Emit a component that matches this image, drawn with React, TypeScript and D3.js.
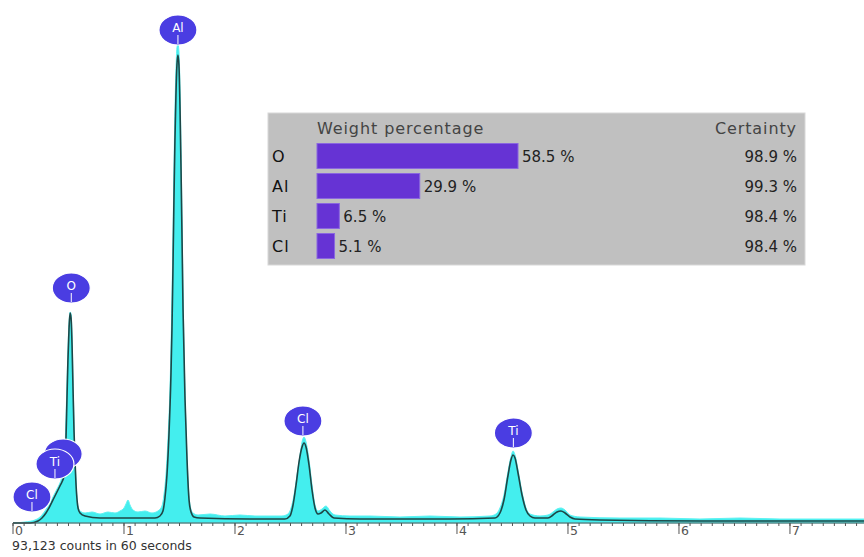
import React from "react";
import * as d3 from "d3";

const W = 864;
const H = 557;

// measured spectrum: [keV, counts]
const measuredKeV = [0.000,0.108,0.198,0.243,0.288,0.333,0.369,0.396,0.423,0.441,0.459,0.468,0.477,0.486,0.495,0.505,0.514,0.523,0.532,0.541,0.550,0.559,0.568,0.577,0.586,0.604,0.649,0.712,0.784,0.856,0.919,0.964,1.000,1.018,1.036,1.054,1.081,1.126,1.189,1.252,1.306,1.342,1.360,1.378,1.396,1.414,1.423,1.432,1.441,1.450,1.459,1.468,1.477,1.486,1.495,1.505,1.514,1.523,1.532,1.541,1.559,1.577,1.595,1.622,1.667,1.775,1.910,2.045,2.180,2.315,2.423,2.477,2.505,2.532,2.559,2.586,2.604,2.622,2.640,2.667,2.694,2.721,2.748,2.784,2.820,2.856,2.901,3.036,3.216,3.486,3.757,4.027,4.297,4.351,4.387,4.423,4.459,4.486,4.505,4.523,4.550,4.586,4.622,4.658,4.748,4.820,4.865,4.901,4.937,4.973,5.018,5.108,5.468,5.829,6.189,6.550,6.910,7.270,7.667];
const measuredCounts = [0,20,60,120,240,400,560,680,800,920,1100,1460,2060,2760,3460,4020,4220,4180,3760,2860,1960,1300,820,500,340,240,200,220,180,220,200,240,300,380,460,360,260,220,240,200,240,340,560,960,1660,2660,3460,4460,5660,7060,8260,9060,9500,9580,9420,8660,7460,6060,4660,3460,1860,860,360,200,160,180,140,160,140,140,140,180,300,560,960,1360,1620,1720,1620,1260,760,360,240,280,340,240,160,140,140,120,140,120,140,180,300,560,1020,1320,1440,1360,1060,620,300,180,140,160,220,280,300,260,160,120,100,100,80,100,80,80,80];

// fitted spectrum: [keV, counts]
const fitKeV = [0.000,0.153,0.225,0.261,0.297,0.333,0.369,0.396,0.423,0.441,0.459,0.468,0.477,0.486,0.495,0.505,0.514,0.523,0.532,0.541,0.550,0.559,0.568,0.577,0.586,0.604,0.649,0.784,1.054,1.279,1.324,1.351,1.369,1.387,1.405,1.423,1.432,1.441,1.450,1.459,1.468,1.477,1.486,1.495,1.505,1.514,1.523,1.532,1.550,1.568,1.586,1.604,1.631,1.685,2.135,2.450,2.495,2.523,2.550,2.577,2.604,2.622,2.640,2.667,2.694,2.721,2.748,2.775,2.811,2.847,2.892,3.126,3.937,4.342,4.387,4.423,4.459,4.486,4.505,4.523,4.550,4.586,4.622,4.658,4.703,4.820,4.865,4.901,4.937,4.973,5.018,5.063,5.288,6.189,7.667];
const fitCounts = [0,0,40,100,200,340,500,620,740,820,940,1160,1660,2460,3260,3900,4200,4100,3560,2660,1820,1220,760,460,300,200,140,100,100,100,140,240,500,960,1760,2960,3860,5060,6460,7660,8560,9160,9360,9160,8260,7060,5660,4260,2460,1260,460,220,120,100,80,80,140,360,760,1220,1520,1600,1520,1160,660,300,180,200,260,180,100,80,80,100,200,460,940,1260,1360,1300,1000,560,260,140,100,100,160,220,240,200,120,80,60,40,40];

// peak labels
const labelElements = ["Cl", "", "Ti", "O", "Al", "Cl", "Ti"];
const labelKeV = [0.171, 0.452, 0.378, 0.525, 1.486, 2.612, 4.508];
const labelCounts = [520, 1380, 1180, 4700, 9860, 2040, 1800];

// quantification table
const tableElements = ["O", "Al", "Ti", "Cl"];
const weightPct = [58.5, 29.9, 6.5, 5.1];
const certaintyPct = [98.9, 99.3, 98.4, 98.4];

const axisTicks = [0, 1, 2, 3, 4, 5, 6, 7];
const footerText = "93,123 counts in 60 seconds";

export default function App() {
  const x = d3.scaleLinear().domain([0, 7.667]).range([13, 864]);
  const y = d3.scaleLinear().domain([0, 10000]).range([523, 23]);

  const measured = measuredKeV.map((k, i) => [k, measuredCounts[i]] as [number, number]);
  const fit = fitKeV.map((k, i) => [k, fitCounts[i]] as [number, number]);

  const area = d3
    .area<[number, number]>()
    .x((d) => x(d[0]))
    .y0(y(0))
    .y1((d) => y(d[1]))
    .curve(d3.curveMonotoneX);
  const line = d3
    .line<[number, number]>()
    .x((d) => x(d[0]))
    .y((d) => y(d[1]))
    .curve(d3.curveMonotoneX);

  const minorTicks = d3.range(0, 77).map((i) => i / 10);

  // table
  const tX0 = 268, tX1 = 805, tY0 = 113, tY1 = 265;
  const barScale = d3.scaleLinear().domain([0, 100]).range([317, 660.6]);
  const rowY = d3.scalePoint<string>().domain(tableElements).range([156, 246]);
  const barH = 25;
  const font = "'DejaVu Sans', Verdana, sans-serif";

  return (
    <svg
      width={W}
      height={H}
      style={{ position: "absolute", left: 0, top: 0, background: "#fff" }}
      fontFamily={font}
    >
      <rect x={0} y={0} width={W} height={H} fill="#ffffff" />
      {/* spectrum */}
      <path d={area(measured) || ""} fill="#44eeee" stroke="#5ef2f2" strokeWidth={1} />
      <path d={line(fit) || ""} fill="none" stroke="#1e4646" strokeWidth={1.6} />

      {/* axis */}
      <line x1={x(0)} x2={W} y1={y(0)} y2={y(0)} stroke="#555" strokeWidth={1.2} />
      {minorTicks.map((t) => (
        <line key={"m" + t} x1={x(t)} x2={x(t)} y1={y(0)} y2={y(0) + 3} stroke="#555" strokeWidth={1} />
      ))}
      {axisTicks.map((t) => (
        <g key={"t" + t}>
          <line x1={x(t)} x2={x(t)} y1={y(0)} y2={y(0) + 11} stroke="#555" strokeWidth={1} />
          <text x={x(t) + 2} y={y(0) + 12} fontSize={12.5} fill="#555">
            {t}
          </text>
        </g>
      ))}
      <text x={12} y={550} fontSize={12.5} fill="#333">
        {footerText}
      </text>

      {/* peak labels */}
      {labelElements.map((el, i) => {
        const cx = x(labelKeV[i]);
        const cy = y(labelCounts[i]);
        return (
          <g key={"l" + i}>
            <ellipse cx={cx} cy={cy} rx={19} ry={15} fill="#4a3de2" stroke="#ffffff" strokeWidth={1.2} />
            {el && (
              <>
                <text x={cx} y={cy + 2} fontSize={12} fill="#ffffff" textAnchor="middle">
                  {el}
                </text>
                <line x1={cx} x2={cx} y1={cy + 5} y2={cy + 14} stroke="#ffffff" strokeWidth={1} />
              </>
            )}
          </g>
        );
      })}

      {/* quantification table */}
      <rect x={tX0} y={tY0} width={tX1 - tX0} height={tY1 - tY0} fill="#c0c0c0" stroke="#d8d8d8" />
      <text x={317} y={134} fontSize={16} letterSpacing={0.9} fill="#444">
        Weight percentage
      </text>
      <text x={797} y={134} fontSize={16} letterSpacing={0.9} fill="#444" textAnchor="end">
        Certainty
      </text>
      {tableElements.map((el, i) => {
        const cy = rowY(el) as number;
        return (
          <g key={"r" + el}>
            <text x={272} y={cy + 6} fontSize={16} letterSpacing={1} fill="#111">
              {el}
            </text>
            <rect
              x={barScale(0)}
              y={cy - barH / 2}
              width={barScale(weightPct[i]) - barScale(0)}
              height={barH}
              fill="#6633d4"
              stroke="#8a66e0"
              strokeWidth={1}
            />
            <text x={barScale(weightPct[i]) + 4} y={cy + 6} fontSize={15} fill="#222">
              {weightPct[i].toFixed(1) + " %"}
            </text>
            <text x={797} y={cy + 6} fontSize={15} fill="#222" textAnchor="end">
              {certaintyPct[i].toFixed(1) + " %"}
            </text>
          </g>
        );
      })}
    </svg>
  );
}
